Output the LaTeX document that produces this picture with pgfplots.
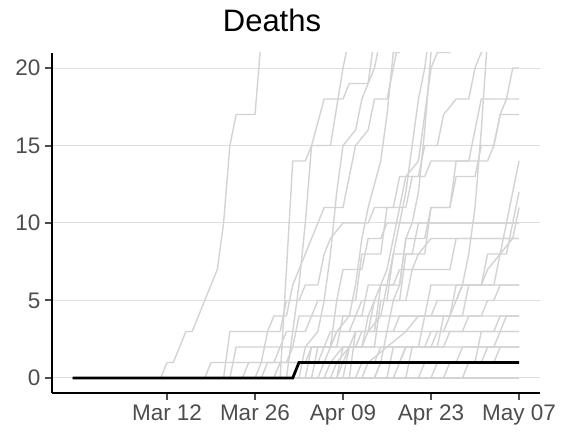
\documentclass[border=0pt]{standalone}
\usepackage{pgfplots}
\pgfplotsset{compat=1.18}
\usepackage{fontspec}
\setmainfont{Liberation Sans}
\definecolor{ln}{RGB}{211,211,211}
\definecolor{grd}{RGB}{222,222,222}
\definecolor{tk}{RGB}{77,77,77}
\begin{document}
\begin{tikzpicture}[x=1pt,y=1pt]
\useasboundingbox (-52,-42) rectangle (518,393);
\begin{axis}[
  at={(0,0)}, anchor=south west,
  scale only axis, width=488pt, height=340pt,
  xmin=-18.3, xmax=59.34, ymin=-0.97, ymax=20.97,
  axis x line*=bottom, axis y line*=left,
  axis line style={-, line width=2.2pt, black},
  xtick={0,14,28,42,56},
  xticklabels={Mar 12, Mar 26, Apr 09, Apr 23, May 07},
  ytick={0,5,10,15,20},
  ymajorgrids, major grid style={grd, line width=1pt},
  tick align=outside, major tick length=7pt,
  tick style={line width=2pt, tk},
  ticklabel style={font=\fontsize{22.5}{26}\selectfont, text=tk},
  /pgf/number format/assume math mode=true,
  xticklabel style={yshift=-1pt},
  yticklabel style={xshift=-1pt},
  g/.style={ln, line width=1.4pt, line join=round, no markers, solid},
]
% grey series
\addplot[g] coordinates {(-15,0)(-1,0)(0,1)(1,1)(3,3)(4,3)(5,4)(6,5)(7,6)(8,7)(9,10)(10,15)(11,17)(14,17)(15,22)(16,27)(56,90)};
\addplot[g] coordinates {(-15,0)(18,0)(19,7)(20,14)(22,14)(23,15)(26,15)(28,20)(29,22)(30,25)(56,60)};
\addplot[g] coordinates {(-15,0)(19,0)(20,3)(21,6)(22,10)(23,15)(25,18)(28,18)(29,19)(32,19)(33,22)(56,60)};
\addplot[g] coordinates {(-15,0)(21,0)(22,2)(24,3)(25,5)(26,8)(27,12)(28,15)(30,16)(31,18)(32,19)(33,20)(34,22)(56,55)};
\addplot[g] coordinates {(-15,0)(24,0)(25,1)(27,3)(29,4)(30,6)(31,9)(32,11)(34,14)(35,17)(36,21)(37,21)(38,24)(56,50)};
\addplot[g] coordinates {(-15,0)(27,0)(28,2)(31,2)(32,4)(33,5)(35,5)(36,8)(37,10)(38,12)(39,15)(40,18)(41,20)(42,23)(56,45)};
\addplot[g] coordinates {(-15,0)(30,0)(31,1)(34,1)(35,3)(36,5)(37,6)(38,9)(39,10)(40,12)(41,16)(42,21)(43,24)(56,40)};
\addplot[g] coordinates {(-15,0)(26,0)(27,1)(29,2)(30,3)(32,3)(33,5)(35,7)(36,9)(37,11)(38,13)(40,14)(41,17)(42,20)(43,21)(45,21)(46,24)(56,35)};
\addplot[g] coordinates {(-15,0)(33,0)(34,1)(37,1)(38,2)(41,2)(42,3)(44,3)(45,4)(47,6)(48,8)(49,11)(50,16)(51,22)(56,40)};
\addplot[g] coordinates {(-15,0)(29,0)(30,3)(33,3)(34,6)(37,6)(38,9)(41,9)(42,11)(45,11)(46,13)(49,13)(50,15)(52,15)(53,17)(54,18)(55,20)(56,20)};
\addplot[g] coordinates {(-15,0)(28,0)(29,2)(33,2)(34,5)(37,5)(38,8)(41,8)(42,11)(45,11)(46,14)(48,14)(49,16)(50,18)(56,18)};
\addplot[g] coordinates {(-15,0)(22,0)(23,2)(26,2)(27,5)(30,5)(31,8)(34,8)(35,11)(38,11)(39,13)(41,13)(42,14)(51,14)(52,15)(53,17)(56,17)};
\addplot[g] coordinates {(-15,0)(31,0)(32,1)(35,2)(38,3)(40,4)(42,4)(43,5)(46,5)(47,6)(50,6)(51,7)(53,8)(54,10)(55,12)(56,14)};
\addplot[g] coordinates {(-15,0)(35,0)(36,2)(40,2)(41,4)(45,4)(46,6)(50,6)(51,8)(54,8)(55,10)(56,12)};
\addplot[g] coordinates {(-15,0)(38,0)(39,2)(43,2)(44,4)(47,4)(48,6)(52,6)(53,8)(55,9)(56,11)};
\addplot[g] coordinates {(-15,0)(23,0)(24,2)(27,2)(28,4)(31,4)(32,6)(35,6)(36,8)(39,8)(40,10)(56,10)};
\addplot[g] coordinates {(-15,0)(25,0)(26,1)(28,2)(31,2)(32,3)(34,4)(35,6)(36,6)(37,7)(39,7)(40,8)(42,9)(56,9)};
\addplot[g] coordinates {(-15,0)(33,0)(34,1)(37,1)(38,2)(42,2)(43,3)(47,3)(48,4)(50,4)(51,5)(52,5)(53,6)(56,6)};
\addplot[g] coordinates {(-15,0)(20,0)(21,1)(24,1)(25,2)(30,2)(31,3)(36,3)(37,4)(56,4)};
\addplot[g] coordinates {(-15,0)(27,0)(28,1)(33,1)(34,2)(44,2)(45,3)(56,3)};
\addplot[g] coordinates {(-15,0)(6,0)(7,1)(19,1)(20,2)(26,2)(27,3)(56,3)};
\addplot[g] coordinates {(-15,0)(10,0)(11,2)(18,2)(19,3)(22,3)(23,4)(30,4)(31,5)(38,5)(39,7)(45,7)(46,9)(56,9)};
\addplot[g] coordinates {(-15,0)(56,0)};
\addplot[g] coordinates {(-15,0)(44,0)(45,1)(56,1)};
\addplot[g] coordinates {(-15,0)(36,0)(37,1)(50,1)(51,2)(56,2)};
\addplot[g] coordinates {(-15,0)(15,0)(16,1)(28,1)(29,2)(56,2)};
\addplot[g] coordinates {(-15,0)(9,0)(10,3)(18,3)(19,5)(21,5)(22,6)(24,6)(25,8)(26,9)(28,10)(32,10)(33,11)(36,11)(37,13)(40,13)(41,15)(43,15)(44,17)(46,18)(48,18)(49,20)(50,21)(56,25)};
\addplot[g] coordinates {(-15,0)(14,0)(15,1)(16,3)(17,4)(19,4)(20,6)(22,8)(24,10)(25,11)(28,11)(29,13)(30,15)(32,16)(33,18)(35,18)(36,20)(37,22)(56,40)};
\addplot[g] coordinates {(-15,0)(40,0)(41,1)(46,1)(47,2)(52,2)(53,3)(54,4)(56,4)};
\addplot[g] coordinates {(-15,0)(47,0)(48,1)(52,1)(53,2)(56,2)};
\addplot[g] coordinates {(-15,0)(12,0)(13,1)(17,1)(18,2)(20,2)(21,4)(23,4)(24,5)(27,5)(28,7)(31,7)(32,9)(34,9)(35,10)(56,10)};
\addplot[g] coordinates {(-15,0)(42,0)(43,1)(49,1)(50,3)(52,3)(53,4)(56,4)};
\addplot[g] coordinates {(-15,0)(17,0)(18,1)(22,1)(23,2)(25,2)(26,3)(29,3)(30,4)(41,4)(42,6)(56,6)};
% black series
\addplot[black, line width=2.8pt, no markers, solid] coordinates {(-15,0)(20,0)(21,1)(56,1)};
\end{axis}
\node[anchor=base, font=\fontsize{31}{36}\selectfont] at (220,361) {Deaths};
\end{tikzpicture}
\end{document}
